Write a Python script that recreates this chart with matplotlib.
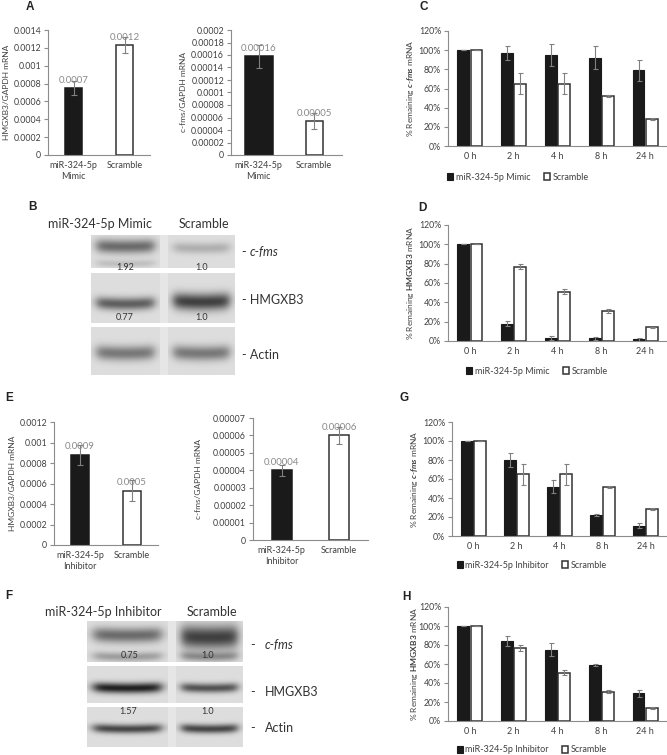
import numpy as np
import matplotlib
matplotlib.use("Agg")
import matplotlib.pyplot as plt
from matplotlib.ticker import MultipleLocator, FuncFormatter, PercentFormatter

plt.rcParams['font.family'] = ['Lato', 'DejaVu Sans']
plt.rcParams['mathtext.fontset'] = 'custom'
plt.rcParams['mathtext.rm'] = 'Lato'
plt.rcParams['mathtext.it'] = 'Lato:italic:bold'
plt.rcParams['mathtext.bf'] = 'Lato:bold'

# ---- data ----
mimic_cats = ["miR-324-5p\nMimic", "Scramble"]
inhib_cats = ["miR-324-5p\nInhibitor", "Scramble"]

a_hmg_vals = [0.00075, 0.00123]
a_hmg_errs = [0.00008, 0.00009]
a_hmg_labels = ["0.0007", "0.0012"]
a_cfms_vals = [0.000158, 0.000054]
a_cfms_errs = [0.000018, 0.000013]
a_cfms_labels = ["0.00016", "0.00005"]

e_hmg_vals = [0.00088, 0.00053]
e_hmg_errs = [0.0001, 0.0001]
e_hmg_labels = ["0.0009", "0.0005"]
e_cfms_vals = [0.00004, 0.00006]
e_cfms_errs = [0.000003, 0.000005]
e_cfms_labels = ["0.00004", "0.00006"]

hours = ["0 h", "2 h", "4 h", "8 h", "24 h"]
c_mimic = [100, 97, 95, 92, 79]
c_mimic_err = [0, 7, 11, 12, 11]
c_scr = [100, 65, 65, 52, 28]
c_scr_err = [0, 11, 11, 1, 1]
d_mimic = [100, 18, 3, 3, 2]
d_mimic_err = [0, 2.5, 2, 1.5, 1.5]
d_scr = [100, 77, 51, 31, 14]
d_scr_err = [0, 3, 2.5, 2, 1]
g_inhib = [100, 80, 52, 22, 11]
g_inhib_err = [0, 7, 7, 1, 2.5]
g_scr = [100, 65, 65, 52, 28]
g_scr_err = [0, 11, 11, 1, 1]
h_inhib = [100, 84, 75, 59, 29]
h_inhib_err = [0, 5, 7, 1.5, 4]
h_scr = [100, 77, 51, 31, 14]
h_scr_err = [0, 3, 3, 2, 1]

# blot bands per lane: (centre, darkness, width)
b_cfms_bands = [[(0.35, 0.45, 0.15), (0.88, 0.12, 0.08)], [(0.40, 0.18, 0.12)]]
b_hmg_bands = [[(0.62, 0.50, 0.09)], [(0.58, 0.62, 0.12)]]
b_actin_bands = [[(0.55, 0.40, 0.11)], [(0.55, 0.40, 0.11)]]
b_quant_cfms = ["1.92", "1.0"]
b_quant_hmg = ["0.77", "1.0"]
f_cfms_bands = [[(0.35, 0.45, 0.13), (0.88, 0.25, 0.08)], [(0.40, 0.62, 0.20), (0.88, 0.30, 0.08)]]
f_hmg_bands = [[(0.60, 0.75, 0.10)], [(0.60, 0.55, 0.09)]]
f_actin_bands = [[(0.55, 0.60, 0.08)], [(0.55, 0.60, 0.08)]]
f_quant_cfms = ["0.75", "1.0"]
f_quant_hmg = ["1.57", "1.0"]

W, H = 667, 755
fig = plt.figure(figsize=(W / 100, H / 100), dpi=100)

AXC = '#8c8c8c'
TXT = '#404040'
DARK = '#1a1a1a'


def px(x, y):
    return x / W, 1 - y / H


def add_ax(x0, x1, y0, y1):
    return fig.add_axes([x0 / W, 1 - y1 / H, (x1 - x0) / W, (y1 - y0) / H])


def style(ax):
    for s in ["top", "right"]:
        ax.spines[s].set_visible(False)
    for s in ["left", "bottom"]:
        ax.spines[s].set_color(AXC)
        ax.spines[s].set_linewidth(0.8)
    ax.tick_params(axis='y', colors=AXC, labelcolor=TXT, labelsize=6.3, length=3, width=0.8, pad=2)
    ax.tick_params(axis='x', length=0, labelcolor=TXT, labelsize=6.5, pad=4)


def plain(v, p):
    if abs(v) < 1e-12:
        return "0"
    return np.format_float_positional(round(v, 8), trim='-')


# overlay axes in pixel coordinates for blots and free text
ov = fig.add_axes([0, 0, 1, 1])
ov.axis('off')


def small_bar(box, cats, vals, errs, labels, ymax, step, widths, ylab, lab_x):
    ax = add_ax(*box)
    x = np.arange(len(cats))
    ax.bar(x, vals, width=widths, color=[DARK, 'white'], edgecolor=[DARK, '#333333'],
           linewidth=1.1, yerr=errs, ecolor='#808080', capsize=2,
           error_kw=dict(elinewidth=0.8, capthick=0.8), zorder=2)
    for xi, v, lab in zip(x, vals, labels):
        ax.annotate(lab, (xi, v), xytext=(0, 2.5), textcoords='offset points',
                    ha='center', va='bottom', fontsize=7, color='#8a8a8a', zorder=3)
    ax.set_xlim(-0.5, 1.5)
    ax.set_ylim(0, ymax)
    ax.yaxis.set_major_locator(MultipleLocator(step))
    ax.yaxis.set_major_formatter(FuncFormatter(plain))
    ax.set_xticks(x)
    ax.set_xticklabels(cats, linespacing=1.3)
    style(ax)
    fig.text(*px(lab_x, (box[2] + box[3]) / 2), ylab, rotation=90, ha='center', va='center',
             fontsize=6, color=TXT)
    return ax


def time_bar(box, a_vals, a_err, b_vals, b_err, a_name, ylab, lab_x, leg_xy):
    ax = add_ax(*box)
    x = np.arange(len(hours))
    ba = ax.bar(x - 0.15, a_vals, 0.27, color=DARK, edgecolor=DARK, linewidth=0.8,
                yerr=a_err, ecolor='#808080', capsize=1.8,
                error_kw=dict(elinewidth=0.8, capthick=0.8), label=a_name, zorder=2)
    bb = ax.bar(x + 0.15, b_vals, 0.27, color='white', edgecolor='#333333', linewidth=1.1,
                yerr=b_err, ecolor='#808080', capsize=1.8,
                error_kw=dict(elinewidth=0.8, capthick=0.8), label="Scramble", zorder=2)
    ax.set_xlim(-0.5, 4.5)
    ax.set_ylim(0, 120)
    ax.yaxis.set_major_locator(MultipleLocator(20))
    ax.yaxis.set_major_formatter(PercentFormatter(100, decimals=0))
    ax.set_xticks(x)
    ax.set_xticklabels(hours)
    style(ax)
    fig.text(*px(lab_x, (box[2] + box[3]) / 2), ylab, rotation=90, ha='center', va='center',
             fontsize=6, color=TXT)
    fig.legend(handles=[ba, bb], labels=[a_name, "Scramble"], loc='center',
               bbox_to_anchor=px(*leg_xy), ncol=2, frameon=False, fontsize=6.5,
               handlelength=0.65, handleheight=0.8, handletextpad=0.3, columnspacing=1.5,
               labelcolor=TXT)
    return ax


small_bar((48, 150, 30, 155), mimic_cats, a_hmg_vals, a_hmg_errs, a_hmg_labels,
          0.0014, 0.0002, 0.34, "HMGXB3/GAPDH mRNA", 7)
small_bar((231, 342, 30, 155), mimic_cats, a_cfms_vals, a_cfms_errs, a_cfms_labels,
          0.0002, 0.00002, [0.5, 0.3], "c-fms/GAPDH mRNA", 184)
small_bar((54, 158, 422, 545), inhib_cats, e_hmg_vals, e_hmg_errs, e_hmg_labels,
          0.0012, 0.0002, 0.35, "HMGXB3/GAPDH mRNA", 13)
small_bar((253, 368, 418, 540), inhib_cats, e_cfms_vals, e_cfms_errs, e_cfms_labels,
          0.00007, 0.00001, 0.35, "c-fms/GAPDH mRNA", 199)

time_bar((448, 667, 31, 146), c_mimic, c_mimic_err, c_scr, c_scr_err, "miR-324-5p Mimic",
         r"% Remaining $\it{c}$-$\it{fms}$ mRNA", 410, (518, 177))
time_bar((448, 667, 225, 341), d_mimic, d_mimic_err, d_scr, d_scr_err, "miR-324-5p Mimic",
         r"% Remaining $\bf{HMGXB3}$ mRNA", 411, (537, 371))
time_bar((452, 667, 422, 536), g_inhib, g_inhib_err, g_scr, g_scr_err, "miR-324-5p Inhibitor",
         r"% Remaining $\it{c}$-$\it{fms}$ mRNA", 415, (532, 565))
time_bar((448, 667, 607, 721), h_inhib, h_inhib_err, h_scr, h_scr_err, "miR-324-5p Inhibitor",
         r"% Remaining $\bf{HMGXB3}$ mRNA", 415, (532, 750))


def blot_row(lanes, y0, y1, bands, bg=0.87):
    ov.add_patch(plt.Rectangle((lanes[0][0], y0), lanes[-1][1] - lanes[0][0], y1 - y0,
                               color='#e6e6e6', lw=0, zorder=0))
    for (lx0, lx1), lane_bands in zip(lanes, bands):
        h = int((y1 - y0) * 2)
        w = int((lx1 - lx0) * 2)
        yy, xx = np.mgrid[0:1:h * 1j, 0:1:w * 1j]
        img = np.full((h, w), bg)
        edge = 1 / (1 + np.exp(-(xx - 0.08) / 0.04)) / (1 + np.exp((xx - 0.92) / 0.04))
        for c, s, sg in lane_bands:
            yc = c - 0.15 * (xx - 0.5) ** 2
            img = img - s * np.exp(-(yy - yc) ** 2 / (2 * sg ** 2)) * edge
        ov.imshow(np.clip(img, 0, 1), cmap='gray', vmin=0, vmax=1, extent=(lx0, lx1, y1, y0),
                  aspect='auto', interpolation='bilinear', zorder=1)


# panel B
b_lanes = [(91, 160), (168, 235)]
blot_row(b_lanes, 235, 268, b_cfms_bands)
blot_row(b_lanes, 273, 323, b_hmg_bands)
blot_row(b_lanes, 327, 375, b_actin_bands)
ov.text(100, 224, "miR-324-5p Mimic", ha='center', va='center', fontsize=9, color='#333333')
ov.text(204, 224, "Scramble", ha='center', va='center', fontsize=9, color='#333333')
for xq, q in zip([125, 202], b_quant_cfms):
    ov.text(xq, 267, q, ha='center', va='center', fontsize=6.5, color='#333333', zorder=3)
for xq, q in zip([125, 202], b_quant_hmg):
    ov.text(xq, 318, q, ha='center', va='center', fontsize=6.5, color='#333333', zorder=3)
ov.text(242, 252, "- ", ha='left', va='center', fontsize=9, color='#333333')
ov.text(250, 252, "c-fms", ha='left', va='center', fontsize=9, color='#333333', style='italic')
ov.text(242, 300, "- HMGXB3", ha='left', va='center', fontsize=9, color='#333333')
ov.text(242, 355, "- Actin", ha='left', va='center', fontsize=9, color='#333333')

# panel F
f_lanes = [(87, 168), (176, 243)]
blot_row(f_lanes, 621, 662, f_cfms_bands)
blot_row(f_lanes, 666, 703, f_hmg_bands)
blot_row(f_lanes, 707, 747, f_actin_bands)
ov.text(103, 612, "miR-324-5p Inhibitor", ha='center', va='center', fontsize=9, color='#333333')
ov.text(212, 612, "Scramble", ha='center', va='center', fontsize=9, color='#333333')
for xq, q in zip([130, 208], f_quant_cfms):
    ov.text(xq, 655, q, ha='center', va='center', fontsize=6.5, color='#333333', zorder=3)
for xq, q in zip([128, 208], f_quant_hmg):
    ov.text(xq, 712, q, ha='center', va='center', fontsize=6.5, color='#333333', zorder=3)
ov.text(250, 645, "-", ha='left', va='center', fontsize=9, color='#333333')
ov.text(265, 645, "c-fms", ha='left', va='center', fontsize=9, color='#333333', style='italic')
ov.text(250, 692, "-", ha='left', va='center', fontsize=9, color='#333333')
ov.text(265, 692, "HMGXB3", ha='left', va='center', fontsize=9, color='#333333')
ov.text(250, 728, "-", ha='left', va='center', fontsize=9, color='#333333')
ov.text(265, 728, "Actin", ha='left', va='center', fontsize=9, color='#333333')

# panel letters
for letter, (lx, ly) in zip("ABCDEFGH", [(26, 7), (28, 207), (420, 7), (418, 208),
                                       (5, 398), (5, 596), (400, 398), (402, 597)]):
    ov.text(lx, ly, letter, ha='left', va='center', fontsize=8.5, fontweight='bold',
            family='Liberation Sans', color='#222222')

ov.set_xlim(0, W)
ov.set_ylim(H, 0)

fig.savefig("out.png", dpi=100)
